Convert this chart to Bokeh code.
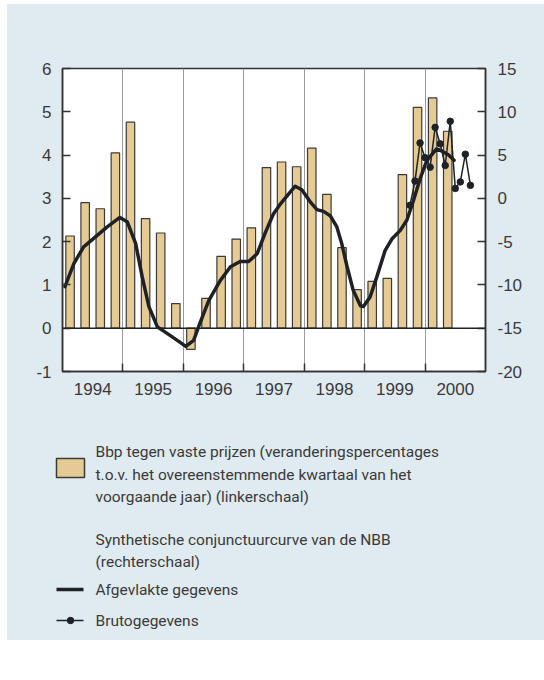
from bokeh.plotting import figure
from bokeh.models import Range1d, LinearAxis, FixedTicker, Span, CustomJSTickFormatter
from bokeh.layouts import column
from bokeh.core.properties import value
from bokeh.embed import file_html
from bokeh.resources import INLINE

# ---- data ----
# GDP at constant prices, y/y % change, quarterly from 1994Q1 (left scale)
gdp_first_year = 1994
gdp_growth = [2.13, 2.90, 2.76, 4.05,
              4.76, 2.53, 2.20, 0.57,
              -0.49, 0.69, 1.66, 2.06,
              2.32, 3.71, 3.84, 3.73,
              4.16, 3.09, 1.86, 0.89,
              1.08, 1.15, 3.55, 5.10,
              5.32, 4.55]

# NBB synthetic business curve, smoothed (right scale); time in decimal years
smooth_t = [1994.04, 1994.19, 1994.35, 1994.57, 1994.74, 1994.95, 1995.07, 1995.21,
            1995.32, 1995.43, 1995.57, 1995.73, 1995.90, 1996.04, 1996.17, 1996.27,
            1996.42, 1996.61, 1996.78, 1996.94, 1997.08, 1997.22, 1997.36, 1997.49,
            1997.60, 1997.74, 1997.85, 1997.96, 1998.10, 1998.21, 1998.32, 1998.43,
            1998.54, 1998.62, 1998.71, 1998.81, 1998.93, 1998.98, 1999.09, 1999.20,
            1999.34, 1999.45, 1999.59, 1999.70, 1999.81, 1999.92, 2000.03, 2000.19,
            2000.27, 2000.39, 2000.48]
smooth_v = [-10.2, -7.5, -5.6, -4.3, -3.3, -2.2, -2.7, -5.2,
            -9.1, -12.5, -14.85, -15.6, -16.4, -17.1, -16.4, -14.5,
            -11.8, -9.5, -7.9, -7.3, -7.3, -6.4, -3.9, -1.8,
            -0.7, 0.5, 1.4, 1.0, -0.4, -1.3, -1.5, -2.0,
            -3.3, -5.2, -7.9, -10.6, -12.4, -12.5, -11.4, -9.1,
            -6.0, -4.7, -3.7, -2.5, -0.2, 2.3, 4.4, 5.7,
            5.5, 5.0, 4.4]

# NBB synthetic business curve, raw monthly data (right scale)
raw_months = ["1999-10", "1999-11", "1999-12", "2000-01", "2000-02", "2000-03", "2000-04",
              "2000-05", "2000-06", "2000-07", "2000-08", "2000-09", "2000-10"]
raw_v = [-0.8, 2.0, 6.4, 4.7, 3.6, 8.2, 6.3, 3.8, 8.9, 1.15, 1.9, 5.1, 1.5]

year_labels = [1994, 1995, 1996, 1997, 1998, 1999, 2000]
left_ticks = [-1, 0, 1, 2, 3, 4, 5, 6]
right_ticks = [-20, -15, -10, -5, 0, 5, 10, 15]

legend_bar = ["Bbp tegen vaste prijzen (veranderingspercentages",
              "t.o.v. het overeenstemmende kwartaal van het",
              "voorgaande jaar) (linkerschaal)"]
legend_head = ["Synthetische conjunctuurcurve van de NBB", "(rechterschaal)"]
legend_smooth = "Afgevlakte gegevens"
legend_raw = "Brutogegevens"

# ---- derived ----
bar_x = [gdp_first_year + (i + 0.5) / 4 for i in range(len(gdp_growth))]
raw_t = [int(m[:4]) + (int(m[5:]) - 1) / 12 for m in raw_months]

BG = "#E0EAF1"
BAR = "#E6CA93"
INK = "#1e2226"
TXT = "#3a3a3a"
FONT = "Liberation Sans"
LFONT = "Roboto"

p = figure(width=537, height=400,
           x_range=Range1d(year_labels[0], year_labels[-1] + 1),
           y_range=Range1d(left_ticks[0], left_ticks[-1]),
           output_backend="svg", toolbar_location=None,
           min_border_left=55, min_border_right=59, min_border_top=64, min_border_bottom=33,
           background_fill_color="white", border_fill_color=BG)
p.outline_line_color = "#333333"
p.outline_line_width = 1.5
p.frame_align = False

p.extra_y_ranges = {"r": Range1d(right_ticks[0], right_ticks[-1])}

# grid at year boundaries
p.ygrid.visible = False
p.xgrid.ticker = FixedTicker(ticks=[y for y in year_labels[1:]])
p.xgrid.grid_line_color = "#9a9a9a"
p.xgrid.grid_line_width = 1

# x axis: labels centred in years, ticks at year boundaries
xa = p.xaxis[0]
xa.ticker = FixedTicker(ticks=[y + 0.5 for y in year_labels], minor_ticks=[y for y in year_labels[1:]])
xa.formatter = CustomJSTickFormatter(code="return Math.floor(tick).toString()")
xa.major_tick_in = 0
xa.major_tick_out = 0
xa.minor_tick_in = 8
xa.minor_tick_out = 0
xa.minor_tick_line_color = "#333333"
xa.minor_tick_line_width = 1.5
xa.axis_line_color = "#333333"
xa.axis_line_width = 1.5
xa.major_label_standoff = 11

plain = CustomJSTickFormatter(code="return String(Math.round(tick))")

ya = p.yaxis[0]
ya.ticker = FixedTicker(ticks=left_ticks)
ya.formatter = plain
ya.major_tick_in = 8
ya.major_tick_out = 0
ya.minor_tick_line_color = None
ya.axis_line_color = "#333333"
ya.axis_line_width = 1.5
ya.major_tick_line_color = "#333333"
ya.major_tick_line_width = 1.5
ya.major_label_standoff = 11

ra = LinearAxis(y_range_name="r", ticker=FixedTicker(ticks=right_ticks),
                formatter=CustomJSTickFormatter(code="return String(Math.round(tick))"))
ra.major_tick_in = 8
ra.major_tick_out = 0
ra.minor_tick_line_color = None
ra.axis_line_color = "#333333"
ra.axis_line_width = 1.5
ra.major_tick_line_color = "#333333"
ra.major_tick_line_width = 1.5
ra.major_label_standoff = 12
p.add_layout(ra, "right")

for ax in (xa, ya, ra):
    ax.major_label_text_font = FONT
    ax.major_label_text_font_size = "17px"
    ax.major_label_text_color = TXT

p.vbar(x=bar_x, top=gdp_growth, bottom=0, width=0.14,
       fill_color=BAR, line_color="#3a3a3a", line_width=1.2)
p.add_layout(Span(location=0, dimension="width", line_color="#222222", line_width=1.5))

p.line(smooth_t, smooth_v, y_range_name="r", line_width=3.5, line_color=INK,
       line_join="round", line_cap="round")
p.line(raw_t, raw_v, y_range_name="r", line_width=1.5, line_color=INK)
p.scatter(raw_t, raw_v, y_range_name="r", size=6.5, fill_color=INK, line_color=INK)

# ---- legend panel ----
q = figure(width=537, height=236, x_range=Range1d(0, 537), y_range=Range1d(236, 0),
           output_backend="svg", toolbar_location=None, min_border=0,
           x_axis_type=None, y_axis_type=None,
           background_fill_color=BG, border_fill_color=BG)
q.outline_line_color = None
q.grid.visible = False
q.frame_align = False

tx = 88
fs = "15.5px"
q.quad(left=[49], right=[77], top=[54], bottom=[73], fill_color=BAR,
       line_color="#3a3a3a", line_width=1.5)
q.text(x=[tx] * 3, y=[47, 70, 92], text=legend_bar, text_font=value(LFONT),
       text_font_size=fs, text_baseline="middle", text_color=TXT)
q.text(x=[tx] * 2, y=[135, 157], text=legend_head, text_font=value(LFONT),
       text_font_size=fs, text_baseline="middle", text_color=TXT)
q.line([49, 76], [185, 185], line_width=3.5, line_color=INK)
q.text(x=[tx], y=[185], text=[legend_smooth], text_font=value(LFONT),
       text_font_size=fs, text_baseline="middle", text_color=TXT)
q.line([49, 76], [216, 216], line_width=1.5, line_color=INK)
q.scatter([63], [216], size=6.5, fill_color=INK, line_color=INK)
q.text(x=[tx], y=[216], text=[legend_raw], text_font=value(LFONT),
       text_font_size=fs, text_baseline="middle", text_color=TXT)

layout = column(p, q, spacing=0, margin=(4, 0, 0, 7),
                styles={"background-color": BG})
open("out.html", "w").write(file_html(layout, INLINE))
